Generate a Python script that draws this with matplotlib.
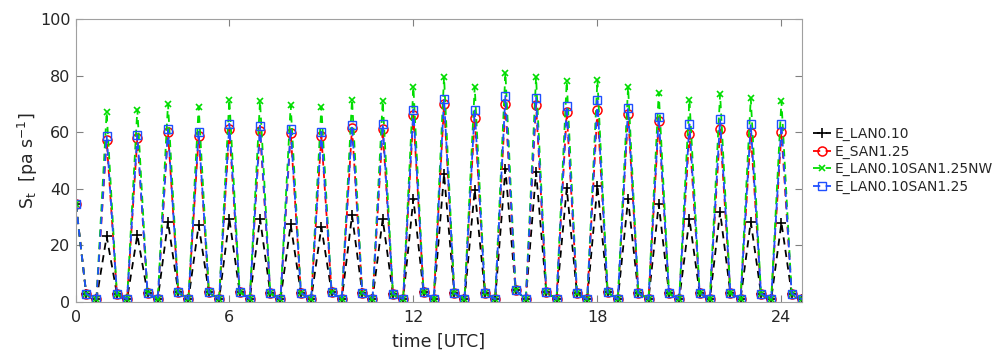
import numpy as np
import matplotlib
matplotlib.use("Agg")
import matplotlib.pyplot as plt

# ---- data ----
# time axis: samples every 20 min, starting at hour 1 (labelled 0)
time_start = 1.0
n_samples = 72
step = 1.0 / 3.0

start_value = 34.5
low_a = [2.9, 3.0, 3.1, 3.6, 3.4, 3.7, 3.3, 3.2, 3.5, 3.3, 3.0, 3.4, 3.2, 3.3, 4.2, 3.5, 3.1, 3.4, 3.3, 3.1, 3.2, 3.3, 3.0, 3.0]
low_b = [1.0, 1.0, 1.0, 1.0, 1.0, 1.1, 1.0, 1.0, 1.0, 1.0, 1.1, 1.0, 1.0, 1.0, 1.0, 1.0, 1.0, 1.0, 1.0, 1.0, 1.0, 1.0, 1.0, 1.0]

peaks_lan = [23.2, 23.7, 28.4, 27.2, 29.4, 29.5, 27.4, 26.5, 30.6, 29.3, 36.5, 45.2,
             39.6, 47.1, 46.0, 40.2, 41.1, 36.3, 34.6, 29.3, 31.9, 28.4, 28.0]
peaks_san = [57.2, 58.0, 60.0, 58.5, 61.0, 60.5, 59.8, 58.7, 61.5, 61.0, 66.0, 70.0,
             65.0, 70.0, 69.5, 67.0, 67.8, 66.5, 64.0, 59.5, 61.0, 59.8, 60.0]
peaks_nw = [67.0, 68.0, 70.0, 69.0, 71.5, 71.0, 69.5, 69.0, 71.5, 71.0, 76.0, 79.5,
            76.0, 81.0, 79.5, 78.0, 78.5, 76.0, 74.0, 71.5, 73.5, 72.0, 71.0]
peaks_both = [58.7, 59.0, 61.0, 60.2, 63.0, 62.3, 61.2, 60.2, 62.5, 63.0, 68.0, 71.8,
              68.0, 72.8, 72.2, 69.3, 71.2, 68.5, 65.5, 62.8, 64.5, 62.8, 62.8]

series_names = ["E_LAN0.10", "E_SAN1.25", "E_LAN0.10SAN1.25NW", "E_LAN0.10SAN1.25"]
xtick_pos = [1, 6, 12, 18, 24]
xtick_labels = ["0", "6", "12", "18", "24"]
ytick_vals = [0, 20, 40, 60, 80, 100]


def build(peaks):
    vals = [start_value]
    for i in range(len(peaks)):
        vals += [low_a[i], low_b[i], peaks[i]]
    vals += [low_a[-1], low_b[-1]]
    return np.array(vals)


t = time_start + step * np.arange(n_samples)

fig = plt.figure(figsize=(10.05, 3.5), dpi=100)
ax = fig.add_axes([0.0756, 0.137, 0.7224, 0.809])

txt = "#262626"
styles = [
    dict(color="black", marker="+", ls="--", ms=7, mew=1.2),
    dict(color="red", marker="o", ls="--", ms=6.5, mfc="none", mew=1.1),
    dict(color="#00dd00", marker="x", ls="--", ms=5, mew=1.2),
    dict(color="#1f4fff", marker="s", ls="--", ms=5.5, mfc="none", mew=1.0),
]
for name, peaks, st in zip(series_names, [peaks_lan, peaks_san, peaks_nw, peaks_both], styles):
    ax.plot(t, build(peaks), lw=1.3, label=name, dashes=(4, 3), **st)

ax.set_xlim(1, 24.67)
ax.set_ylim(0, 100)
ax.set_xticks(xtick_pos)
ax.set_xticklabels(xtick_labels)
ax.set_yticks(ytick_vals)
ax.tick_params(direction="in", length=5, width=0.8, colors="#808080",
               labelcolor=txt, labelsize=11.5, top=True, right=True)
ax.tick_params(axis="x", pad=6)
ax.tick_params(axis="y", pad=4)
for s in ax.spines.values():
    s.set_color("#a0a0a0")
    s.set_linewidth(0.8)

ax.set_xlabel("time [UTC]", fontsize=12.5, color=txt, labelpad=5)
ax.set_ylabel(r"S$_\mathregular{t}$  [pa s$^{-1}$]", fontsize=12.5, color=txt, labelpad=0)

leg = ax.legend(loc="center left", bbox_to_anchor=(1.003, 0.5), frameon=False,
                fontsize=10, handlelength=1.3, handletextpad=0.3, labelspacing=0.25,
                borderaxespad=0.2)
for tx in leg.get_texts():
    tx.set_color(txt)

fig.savefig("out.png", dpi=100)
